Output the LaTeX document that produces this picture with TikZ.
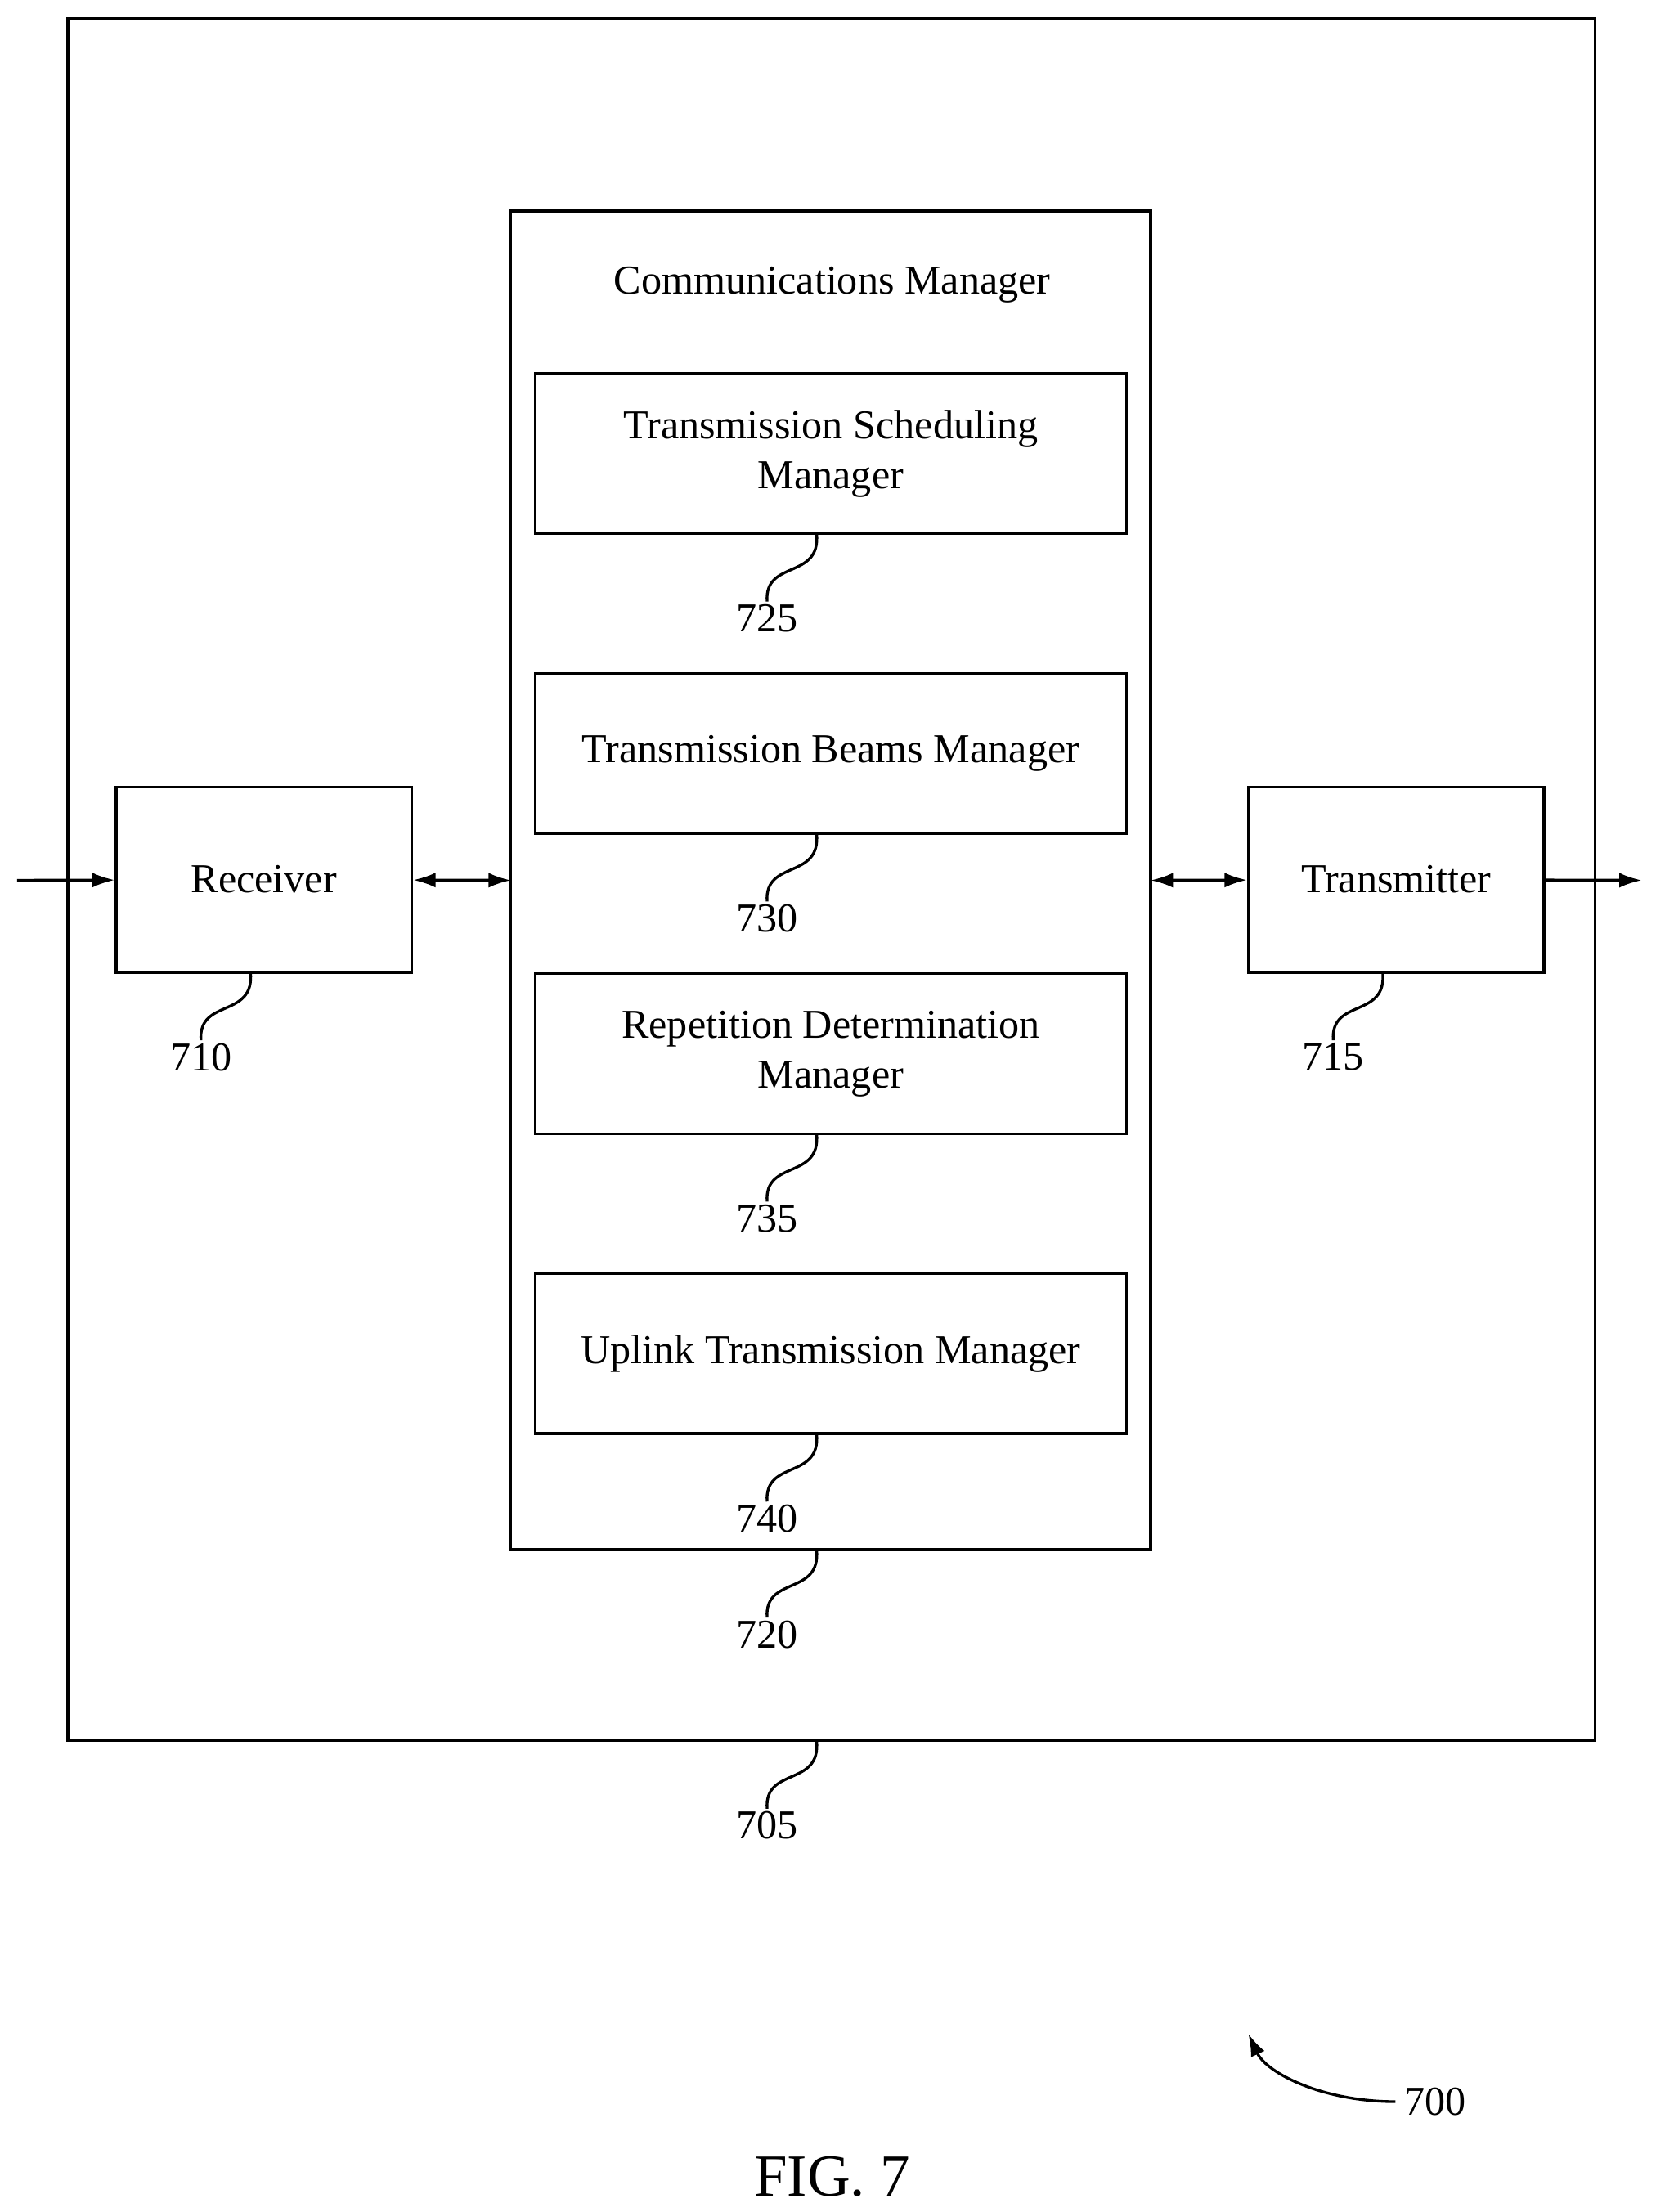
\documentclass[tikz,border=0pt]{standalone}
\usepackage{fontspec}
\setmainfont{Liberation Serif}
\usetikzlibrary{arrows.meta}
\tikzset{
  box/.style={draw, line width=1.1pt, minimum width=#1, inner sep=0pt, align=center, font=\fontsize{16.5}{20}\selectfont},
  num/.style={font=\fontsize{16.5}{20}\selectfont, anchor=north, inner sep=1pt},
  lead/.style={line width=1.1pt},
  flow/.style={line width=1.1pt, -{Latex[length=9pt,width=6pt]}},
  both/.style={line width=1.1pt, {Latex[length=9pt,width=6pt]}-{Latex[length=9pt,width=6pt]}}
}
\begin{document}
\begin{tikzpicture}[x=0.02cm, y=-0.02cm]
    \useasboundingbox (0,0) rectangle (1170,1563);
    % frames
    \draw[line width=1.1pt] (48,13) rectangle (1127,1230);
    \draw[line width=1.1pt] (361,149) rectangle (813,1095);
    \node[font=\fontsize{16.5}{20}\selectfont] (cmt) at (588,201) {Communications Manager};
    % sub managers
    \node (tsm) [box=8.36cm, minimum height=2.26cm] at (587,320.5) {Transmission Scheduling\\Manager};
    \node (tbm) [box=8.36cm, minimum height=2.26cm] at (587,532.5) {Transmission Beams Manager};
    \node (rdm) [box=8.36cm, minimum height=2.26cm] at (587,744.5) {Repetition Determination\\Manager};
    \node (utm) [box=8.36cm, minimum height=2.26cm] at (587,956.5) {Uplink Transmission Manager};
    \node (rx) [box=4.18cm, minimum height=2.62cm] at (186.5,621.5) {Receiver};
    \node (tx) [box=4.18cm, minimum height=2.62cm] at (986.5,621.5) {Transmitter};
    \coordinate (in) at (12,622);
    \coordinate (out) at (1160,622);
    \coordinate (cml) at (361,622);
    \coordinate (cmr) at (813,622);
    \draw[flow] (in) -- (rx);
    \draw[both] (rx) -- (cml);
    \draw[both] (cmr) -- (tx);
    \draw[flow] (tx) -- (out);
    % reference numerals
    \node[num] (n725) at (542,425) {725};
    \node[num] (n730) at (542,637) {730};
    \node[num] (n735) at (542,849) {735};
    \node[num] (n740) at (542,1061) {740};
    \node[num] (n720) at (542,1143) {720};
    \node[num] (n705) at (542,1278) {705};
    \node[num] (n710) at (142,735) {710};
    \node[num] (n715) at (942,735) {715};
    \draw[lead] (577,377) .. controls (580,410) and (540,395) .. (n725.north);
    \draw[lead] (577,589) .. controls (580,622) and (540,607) .. (n730.north);
    \draw[lead] (577,801) .. controls (580,834) and (540,819) .. (n735.north);
    \draw[lead] (577,1013) .. controls (580,1046) and (540,1031) .. (n740.north);
    \draw[lead] (577,1095) .. controls (580,1128) and (540,1113) .. (n720.north);
    \draw[lead] (577,1230) .. controls (580,1263) and (540,1248) .. (n705.north);
    \draw[lead] (177,687) .. controls (180,720) and (140,705) .. (n710.north);
    \draw[lead] (977,687) .. controls (980,720) and (940,705) .. (n715.north);
    % figure label
    \node[font=\fontsize{16.5}{20}\selectfont, anchor=west] (n700) at (986,1485) {700};
    \coordinate (tip) at (882,1437);
    \draw[flow] (n700.west) .. controls (935,1485) and (895,1465) .. (tip);
    \node[font=\fontsize{24}{28}\selectfont] (fig) at (588,1538) {FIG. 7};
\end{tikzpicture}
\end{document}
